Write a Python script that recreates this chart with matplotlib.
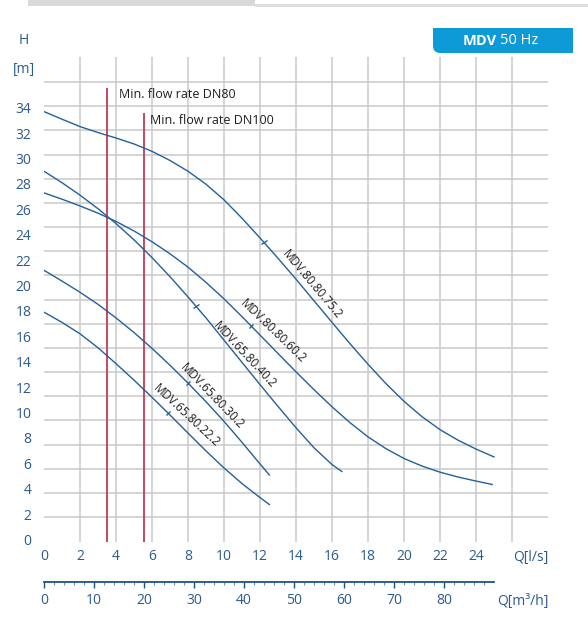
import numpy as np
import matplotlib
matplotlib.use('Agg')
import matplotlib.pyplot as plt
from matplotlib.markers import MarkerStyle
from matplotlib.transforms import Affine2D
from matplotlib.patches import Rectangle, FancyBboxPatch

plt.rcParams['font.family'] = ['Open Sans', 'DejaVu Sans']

# ---------------- data ----------------
q_75 = [0, 1, 2, 3, 4, 5, 6, 7, 8, 9, 10, 11, 12, 13, 14, 15, 16, 17, 18, 19, 20, 21, 22, 23, 24, 25]
h_75 = [33.7, 33.1, 32.52, 32.05, 31.62, 31.15, 30.57, 29.85, 29.0, 27.98, 26.75, 25.3, 23.75,
        22.15, 20.5, 18.8, 17.1, 15.42, 13.8, 12.27, 10.88, 9.67, 8.65, 7.82, 7.12, 6.5]

q_60 = [0, 1, 2, 3, 4, 5, 6, 7, 8, 9, 10, 11, 12, 13, 14, 15, 16, 17, 18, 19, 20, 21, 22, 23, 24, 24.9]
h_60 = [27.3, 26.8, 26.27, 25.7, 25.05, 24.3, 23.45, 22.5, 21.45, 20.25, 18.95, 17.55, 16.1,
        14.65, 13.2, 11.8, 10.45, 9.2, 8.08, 7.15, 6.38, 5.78, 5.3, 4.92, 4.6, 4.33]

q_40 = [0, 1, 2, 3, 4, 5, 6, 7, 8, 9, 10, 11, 12, 13, 14, 15, 16, 16.55]
h_40 = [29.0, 28.1, 27.12, 26.05, 24.88, 23.6, 22.2, 20.7, 19.1, 17.45, 15.7, 13.95, 12.2,
        10.48, 8.8, 7.22, 5.9, 5.35]

q_30 = [0, 1, 2, 3, 4, 5, 6, 7, 8, 9, 10, 11, 12, 12.52]
h_30 = [21.2, 20.35, 19.47, 18.52, 17.45, 16.3, 15.05, 13.72, 12.32, 10.85, 9.3, 7.65, 5.95, 5.08]

q_22 = [0, 1, 2, 3, 4, 5, 6, 7, 8, 9, 10, 11, 12, 12.52]
h_22 = [17.9, 17.1, 16.2, 15.1, 13.85, 12.55, 11.2, 9.8, 8.38, 6.97, 5.63, 4.4, 3.3, 2.75]

curve_names = ['MDV.80.80.75.2', 'MDV.80.80.60.2', 'MDV.65.80.40.2',
               'MDV.65.80.30.2', 'MDV.65.80.22.2']
curve_q = [q_75, q_60, q_40, q_30, q_22]
curve_h = [h_75, h_60, h_40, h_30, h_22]
mark_q = [12.2, 11.5, 8.45, 8.02, 6.87]

min_flow_q = [3.52, 5.56]
min_flow_top = [35.5, 33.5]
min_flow_labels = ['Min. flow rate DN80', 'Min. flow rate DN100']

x_ticks = list(range(0, 25, 2))
y_ticks = list(range(0, 35, 2))
m3h_major = list(range(0, 81, 10))
m3h_minor = [v for v in range(2, 89, 2) if v % 10]

# ---------------- layout helpers ----------------
W, HP, DPI = 588, 627, 100
def fx(x): return x / W
def fy(y): return 1 - y / HP

BLUE_TXT = '#2a5b8f'
CURVE = '#22609c'
RED = '#c9475f'
GRID = '#c9c9c9'

fig = plt.figure(figsize=(W / DPI, HP / DPI), dpi=DPI)

ax = fig.add_axes([fx(44), fy(542), (548 - 44) / W, (542 - 57) / HP])
ax.set_xlim(0, 28)
ax.set_ylim(-0.2, 38.0)
for s in ax.spines.values():
    s.set_visible(False)

# grid
for q in range(2, 27, 2):
    ax.axvline(q, color=GRID, lw=1.1, zorder=0)
grid_top, grid_step = 36.02, 1.903
for k in range(19):
    ax.axhline(grid_top - k * grid_step, color=GRID, lw=1.1, zorder=0)

ax.set_xticks(x_ticks)
ax.set_yticks(y_ticks)
ax.tick_params(axis='both', length=0, labelsize=10, labelcolor=BLUE_TXT)
ax.tick_params(axis='x', pad=5)
ax.tick_params(axis='y', pad=9)

# min flow lines
for q, top in zip(min_flow_q, min_flow_top):
    ax.plot([q, q], [-0.2, top], color=RED, lw=1.4, zorder=2)
ax.text(4.17, 35.08, min_flow_labels[0], fontsize=9, color='#1e1e1e', va='center', ha='left')
ax.text(5.89, 33.03, min_flow_labels[1], fontsize=9, color='#1e1e1e', va='center', ha='left')

# curves
for q, h in zip(curve_q, curve_h):
    ax.plot(q, h, color=CURVE, lw=1.0, zorder=3, solid_joinstyle='round')

fig.canvas.draw()
for q, h, mq in zip(curve_q, curve_h, mark_q):
    mh = np.interp(mq, q, h)
    p1 = ax.transData.transform((mq - 0.5, np.interp(mq - 0.5, q, h)))
    p2 = ax.transData.transform((mq + 0.5, np.interp(mq + 0.5, q, h)))
    ang = np.degrees(np.arctan2(p2[1] - p1[1], p2[0] - p1[0]))
    ms = MarkerStyle('|', transform=Affine2D().rotate_deg(ang))
    ax.plot([mq], [mh], marker=ms, color=CURVE, markersize=5, mew=1.0, zorder=4)

# curve labels
label_pos = [(14.9, 20.1, -50), (12.72, 16.42, -44), (11.17, 14.53, -47),
             (9.33, 11.3, -46), (7.94, 9.75, -43)]
for name, (lq, lh, rot) in zip(curve_names, label_pos):
    ax.text(lq, lh, name, fontsize=8.5, color='#1e1e1e', rotation=rot,
            rotation_mode='anchor', ha='center', va='center')

# secondary axis m3/h
ax2 = fig.add_axes([fx(44), fy(582), (548 - 44) / W, 0.0001])
ax2.set_xlim(0, 28 * 3.6)
for k, s in ax2.spines.items():
    s.set_visible(k == 'bottom')
ax2.spines['bottom'].set_bounds(0, 90)
ax2.spines['bottom'].set_color('#1f4f82')
ax2.spines['bottom'].set_linewidth(1.3)
ax2.set_yticks([])
ax2.set_xticks(m3h_major)
ax2.set_xticks(m3h_minor, minor=True)
ax2.tick_params(axis='x', which='major', direction='out', length=4.2, width=1.0,
                color='#1f4f82', labelsize=10, labelcolor=BLUE_TXT, pad=4)
ax2.tick_params(axis='x', which='minor', direction='out', length=2.4, width=0.8,
                color='#6f90b4')
ax2.patch.set_visible(False)

# axis titles
fig.text(fx(24), fy(41), 'H', fontsize=10, color=BLUE_TXT, ha='center', va='center')
fig.text(fx(24), fy(70), '[m]', fontsize=10, color=BLUE_TXT, ha='center', va='center')
fig.text(fx(513), fy(558), 'Q[l/s]', fontsize=10, color=BLUE_TXT, ha='left', va='center')
fig.text(fx(497), fy(601), 'Q[m³/h]', fontsize=10, color=BLUE_TXT, ha='left', va='center')

# top decorations
fig.patches.append(Rectangle((fx(28), fy(6)), (255 - 28) / W, 6 / HP,
                             transform=fig.transFigure, color='#d9d9d9', lw=0))
fig.patches.append(Rectangle((fx(255), fy(6.5)), (588 - 255) / W, 2.5 / HP,
                             transform=fig.transFigure, color='#dedede', lw=0))

# badge
BADGE = '#0d9ad6'
bx0, bx1, by0, by1 = 433, 573, 28, 53
fig.patches.append(FancyBboxPatch((fx(bx0), fy(by1)), (bx1 - bx0) / W, (by1 - by0) / HP,
                                  boxstyle='round,pad=0,rounding_size=0.012',
                                  transform=fig.transFigure, color=BADGE, lw=0))
fig.patches.append(Rectangle((fx(bx0), fy(40)), (bx1 - bx0) / W, 12 / HP,
                             transform=fig.transFigure, color=BADGE, lw=0))
fig.patches.append(Rectangle((fx(bx0 + 12), fy(by1)), (bx1 - bx0 - 12) / W, (by1 - by0) / HP,
                             transform=fig.transFigure, color=BADGE, lw=0))
fig.text(fx(463), fy(41), 'MDV', fontsize=10.5, fontweight='bold', color='white',
         ha='left', va='center')
fig.text(fx(500), fy(41), '50 Hz', fontsize=10.5, color='white', ha='left', va='center')

fig.savefig('out.png', dpi=DPI)
